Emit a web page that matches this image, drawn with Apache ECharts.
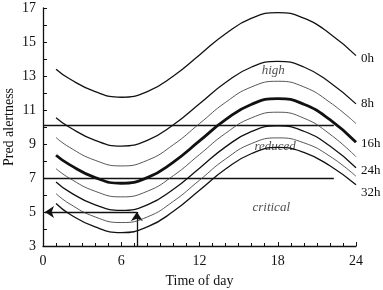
<!DOCTYPE html>
<html>
<head>
<meta charset="utf-8">
<script src="https://cdn.jsdelivr.net/npm/echarts@6/dist/echarts.min.js"></script>
<style>
  html, body { margin: 0; padding: 0; background: #fff; }
  #chart { width: 383px; height: 290px; }
</style>
</head>
<body>
<div id="chart"></div>
<script>
// time of day (h)
const hours = [1, 2, 4, 6, 8, 10, 12, 14, 16, 18, 20, 22, 24];

// predicted alertness
const h0  = [13.4, 12.85, 12.08, 11.75, 12.08, 13.0, 14.24, 15.49, 16.4, 16.73, 16.4, 15.49, 14.2];
const h8  = [10.55, 10.0, 9.21, 8.88, 9.21, 10.13, 11.37, 12.62, 13.53, 13.86, 13.53, 12.62, 11.36];
const h12 = [9.38, 8.82, 8.04, 7.71, 8.04, 8.96, 10.2, 11.45, 12.36, 12.69, 12.36, 11.45, 10.2];
const h16 = [8.34, 7.8, 7.02, 6.69, 7.02, 7.94, 9.18, 10.43, 11.34, 11.67, 11.34, 10.43, 9.1];
const h20 = [7.55, 7.0, 6.22, 5.89, 6.22, 7.14, 8.38, 9.63, 10.54, 10.87, 10.52, 9.58, 8.25];
const h24 = [6.77, 6.2, 5.42, 5.09, 5.42, 6.34, 7.58, 8.83, 9.74, 10.07, 9.75, 8.88, 7.6];
const h28 = [6.08, 5.5, 4.71, 4.38, 4.71, 5.63, 6.87, 8.12, 9.03, 9.36, 9.07, 8.28, 7.1];
const h32 = [5.5, 4.9, 4.12, 3.79, 4.12, 5.04, 6.28, 7.53, 8.44, 8.8, 8.51, 7.72, 6.6];

// thresholds and the worked example (arrows)
const highLevel = 10.1;
const reducedLevel = 7;
const levelEnd = 22.3;
const exampleHour = 7.2;
const exampleValue = 5;

const xTicks = [0, 6, 12, 18, 24];
const yTicks = [3, 5, 7, 9, 11, 13, 15, 17];

const zones = ["high", "reduced", "critical"];
const zoneAt = [[17.65, 13.3], [17.8, 8.85], [17.5, 5.25]];

const serif = "Liberation Serif, Times New Roman, serif";
const ink = "#111";

function pts(vals) {
  return hours.map((h, i) => [h, vals[i]]);
}

function curve(name, vals, width, color, labelDy) {
  const s = {
    name: name,
    type: "line",
    data: pts(vals),
    smooth: 0.5,
    showSymbol: false,
    symbol: "none",
    lineStyle: { color: color, width: width },
    z: width > 2 ? 4 : 3
  };
  if (labelDy !== null) {
    s.endLabel = {
      show: true,
      formatter: name,
      color: ink,
      fontFamily: serif,
      fontSize: 13,
      distance: 5,
      offset: [0, labelDy]
    };
  }
  return s;
}

const chart = echarts.init(document.getElementById("chart"), null, { renderer: "canvas" });

const option = {
  animation: false,
  backgroundColor: "#fff",
  grid: { left: 43, right: 27, top: 8, bottom: 44, outerBoundsMode: "none", containLabel: false },
  xAxis: {
    type: "value",
    min: 0,
    max: 24,
    interval: 6,
    name: "Time of day",
    nameLocation: "middle",
    nameGap: 28,
    nameMoveOverlap: false,
    nameTextStyle: { color: ink, fontFamily: serif, fontSize: 14 },
    axisLine: { lineStyle: { color: ink, width: 1.3 } },
    axisTick: { inside: true, length: 4, lineStyle: { color: ink } },
    minorTick: { show: true, splitNumber: 6, length: 3, lineStyle: { color: ink } },
    axisLabel: {
      color: ink, fontFamily: serif, fontSize: 14, margin: 8,
      formatter: v => (xTicks.indexOf(v) >= 0 ? String(v) : "")
    },
    splitLine: { show: false }
  },
  yAxis: {
    type: "value",
    min: 3,
    max: 17,
    interval: 1,
    name: "Pred alertness",
    nameLocation: "middle",
    nameRotate: 90,
    nameGap: 27,
    nameMoveOverlap: false,
    nameTextStyle: { color: ink, fontFamily: serif, fontSize: 14 },
    axisLine: { show: true, lineStyle: { color: ink, width: 1.3 } },
    axisTick: { inside: true, length: 4, lineStyle: { color: ink } },
    axisLabel: {
      color: ink, fontFamily: serif, fontSize: 14, margin: 7,
      formatter: v => (yTicks.indexOf(v) >= 0 ? String(v) : "")
    },
    splitLine: { show: false }
  },
  series: [
    curve("0h", h0, 1.3, ink, 3),
    curve("8h", h8, 1.3, ink, 0),
    curve("12h", h12, 0.9, "#444", null),
    curve("16h", h16, 2.8, ink, 1),
    curve("20h", h20, 0.9, "#444", null),
    curve("24h", h24, 1.3, ink, 3),
    curve("28h", h28, 0.9, "#444", null),
    curve("32h", h32, 1.3, ink, 8),
    {
      name: "levels",
      type: "lines",
      coordinateSystem: "cartesian2d",
      polyline: false,
      symbol: ["none", "none"],
      lineStyle: { color: ink, width: 1.3, opacity: 1 },
      data: [
        { coords: [[0, highLevel], [levelEnd, highLevel]] },
        { coords: [[0, reducedLevel], [levelEnd, reducedLevel]] }
      ],
      z: 2
    },
    {
      name: "example",
      type: "lines",
      coordinateSystem: "cartesian2d",
      symbol: ["none", "arrow"],
      symbolSize: 9,
      lineStyle: { color: ink, width: 1.3, opacity: 1 },
      data: [
        { coords: [[exampleHour, exampleValue], [0.15, exampleValue]] },
        { coords: [[exampleHour, 3], [exampleHour, exampleValue]] }
      ],
      z: 2
    },
    {
      name: "zones",
      type: "scatter",
      symbolSize: 0,
      data: zones.map((z, i) => ({ name: z, value: zoneAt[i] })),
      label: {
        show: true,
        position: "inside",
        formatter: p => p.name,
        color: "#222",
        fontFamily: serif,
        fontStyle: "italic",
        fontSize: 13
      },
      z: 1
    }
  ]
};

chart.setOption(option);
</script>
</body>
</html>
